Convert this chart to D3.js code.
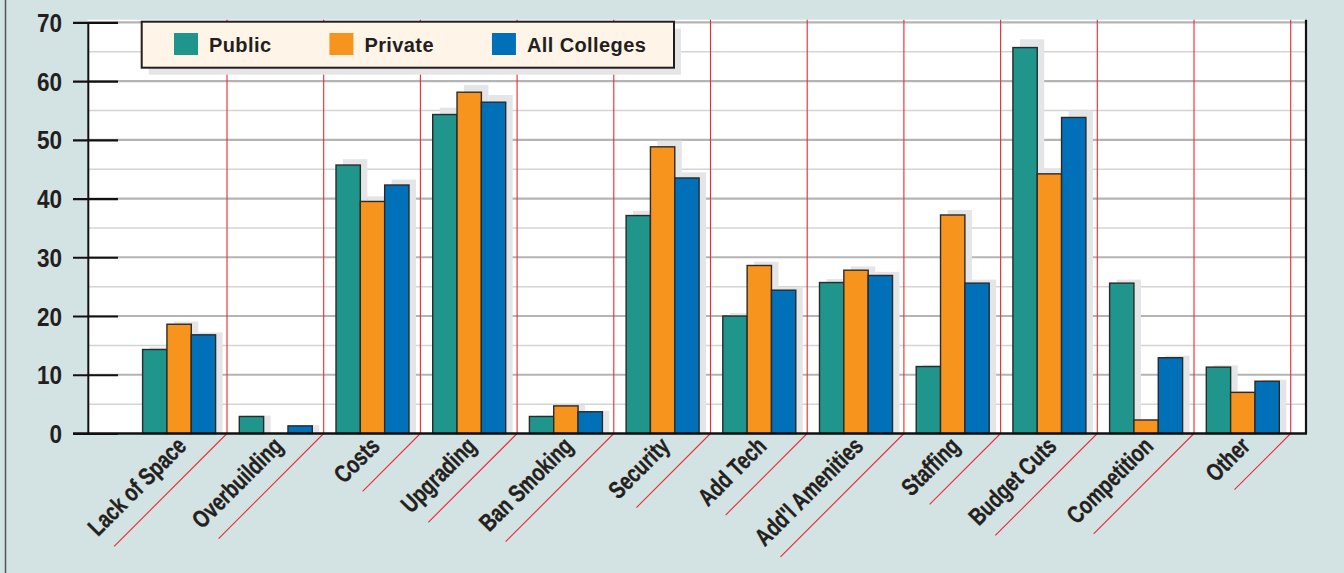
<!DOCTYPE html>
<html>
<head>
<meta charset="utf-8">
<script src="https://cdn.jsdelivr.net/npm/d3@7"></script>
<style>
  html, body { margin: 0; padding: 0; background: #d3e2e2; }
  svg { display: block; }
</style>
</head>
<body>
<svg id="chart" width="1344" height="573"></svg>
<script>
const categories = ["Lack of Space", "Overbuilding", "Costs", "Upgrading", "Ban Smoking", "Security",
  "Add Tech", "Add'l Amenities", "Staffing", "Budget Cuts", "Competition", "Other"];
const seriesNames = ["Public", "Private", "All Colleges"];
const publicVals  = [14.3, 2.9, 45.7, 54.3, 2.9, 37.1, 20.0, 25.7, 11.4, 65.7, 25.6, 11.3];
const privateVals = [18.6, 0.0, 39.5, 58.1, 4.7, 48.8, 28.6, 27.8, 37.2, 44.2, 2.3, 7.0];
const allVals     = [16.8, 1.3, 42.3, 56.4, 3.7, 43.5, 24.4, 26.9, 25.6, 53.8, 12.9, 8.9];
const yTicks = [0, 10, 20, 30, 40, 50, 60, 70];
const colors = ["#1f958b", "#f7941e", "#0070b9"];

const seriesVals = [publicVals, privateVals, allVals];
const rows = categories.map((c, i) => ({ cat: c, vals: seriesNames.map((s, j) => ({ s, j, v: seriesVals[j][i] })) }));

const svg = d3.select("#chart");
const plotL = 87.5, plotR = 1306, plotT = 19.7;
const y = d3.scaleLinear().domain([0, 70]).range([433.5, 22.3]);
const y0 = y(0);
const x = d3.scaleBand().domain(categories).range([130.3, 1290.7]);
const xs = d3.scaleBand().domain(seriesNames).range([12.3, 85.3]);

const ink = "#231f20";
const labelScaleX = 0.77;

// outer left border
svg.append("line").attr("x1", 5.5).attr("x2", 5.5).attr("y1", 0).attr("y2", 573)
  .attr("stroke", "#555").attr("stroke-width", 1.5);

// plot background
svg.append("rect").attr("x", plotL).attr("y", plotT).attr("width", plotR - plotL).attr("height", y0 - plotT)
  .attr("fill", "#ffffff");

// gridlines
const minor = d3.range(5, 70, 10);
svg.append("g").selectAll("line").data(minor).join("line")
  .attr("x1", plotL).attr("x2", plotR).attr("y1", d => y(d)).attr("y2", d => y(d))
  .attr("stroke", "#d4d4d4").attr("stroke-width", 1.5);
svg.append("g").selectAll("line").data(yTicks.filter(d => d > 0)).join("line")
  .attr("x1", plotL).attr("x2", plotR).attr("y1", d => y(d)).attr("y2", d => y(d))
  .attr("stroke", "#b4b4b4").attr("stroke-width", 2.2);

// category labels (condensed bold, measured for red underline lengths)
const labelFont = "'Liberation Sans', Arial, sans-serif";
const labels = svg.append("g").selectAll("text").data(categories).join("text")
  .attr("transform", d => `translate(${x(d) + x.bandwidth() / 2 + 9},${y0 + 14}) rotate(-45) scale(${labelScaleX},1)`)
  .attr("text-anchor", "end")
  .attr("font-family", labelFont)
  .attr("font-weight", "bold")
  .attr("font-size", 24.5)
  .attr("fill", ink)
  .attr("stroke", ink).attr("stroke-width", 0.35)
  .text(d => d);
const lens = {};
labels.each(function (d) { lens[d] = this.getComputedTextLength() * labelScaleX; });

// red separators
const sep = svg.append("g").attr("stroke", "#ec2a33").attr("stroke-width", 1.1).attr("fill", "none");
sep.selectAll("path").data(categories).join("path")
  .attr("d", d => {
    const sx = x(d) + x.bandwidth();
    const dd = lens[d] * 0.74 + 19;
    return `M${sx},${plotT}L${sx},${y0}L${sx - dd},${y0 + dd}`;
  });

// bar shadows
const groups = svg.append("g").selectAll("g").data(rows).join("g")
  .attr("transform", d => `translate(${x(d.cat)},0)`);
groups.selectAll("rect.shadow").data(d => d.vals.filter(e => e.v > 0)).join("rect")
  .attr("class", "shadow")
  .attr("x", d => xs(d.s) + 7)
  .attr("y", d => y(d.v * 1.02) - 0.5)
  .attr("width", xs.bandwidth())
  .attr("height", d => y0 - y(d.v * 1.02) + 0.5)
  .attr("fill", "#e4e5e6");
groups.selectAll("rect.bar").data(d => d.vals.filter(e => e.v > 0)).join("rect")
  .attr("class", "bar")
  .attr("x", d => xs(d.s))
  .attr("y", d => y(d.v))
  .attr("width", xs.bandwidth())
  .attr("height", d => y0 - y(d.v))
  .attr("fill", d => colors[d.j])
  .attr("stroke", "#2a2a2a").attr("stroke-width", 1.4);

// left axis vertical line
svg.append("line").attr("x1", 88.3).attr("x2", 88.3).attr("y1", y(70)).attr("y2", y0)
  .attr("stroke", "#111").attr("stroke-width", 2);
// right border
svg.append("line").attr("x1", 1306).attr("x2", 1306).attr("y1", plotT).attr("y2", y0)
  .attr("stroke", "#111").attr("stroke-width", 2.2);

// y axis with ticks
const yAxis = d3.axisLeft(y).tickValues(yTicks).tickSize(45).tickPadding(11).tickFormat(d3.format("d"));
const ya = svg.append("g").attr("transform", "translate(118,0)").call(yAxis);
ya.select(".domain").remove();
ya.selectAll(".tick line").attr("stroke", "#111").attr("stroke-width", 2.2);
ya.selectAll(".tick text")
  .attr("x", null)
  .attr("transform", "translate(-56,0) scale(0.9,1)")
  .attr("font-family", "'Liberation Sans', Arial, sans-serif")
  .attr("font-weight", "bold").attr("font-size", 25).attr("fill", ink).attr("dy", "0.36em");

// baseline
svg.append("line").attr("x1", 73).attr("x2", 1307).attr("y1", y0).attr("y2", y0)
  .attr("stroke", "#111").attr("stroke-width", 2.6);

// legend
const lg = svg.append("g");
const lgX = 141.7, lgY = 21.7, lgW = 532.3, lgH = 46;
lg.append("rect").attr("x", lgX + 7).attr("y", lgY + 7).attr("width", lgW).attr("height", lgH).attr("fill", "#e5e5e6");
lg.append("rect").attr("x", lgX).attr("y", lgY).attr("width", lgW).attr("height", lgH)
  .attr("fill", "#fef4e7").attr("stroke", ink).attr("stroke-width", 2);
let cx = 174;
seriesNames.forEach((s, j) => {
  lg.append("rect").attr("x", cx).attr("y", 33).attr("width", 24).attr("height", 22).attr("fill", colors[j]);
  const t = lg.append("text").attr("x", cx + 35).attr("y", 51.5)
    .attr("font-family", "'Liberation Sans', Arial, sans-serif").attr("font-weight", "bold")
    .attr("font-size", 20).attr("letter-spacing", 0.4).attr("fill", ink).text(s);
  cx = cx + 35 + t.node().getComputedTextLength() + 58;
});
</script>
</body>
</html>
